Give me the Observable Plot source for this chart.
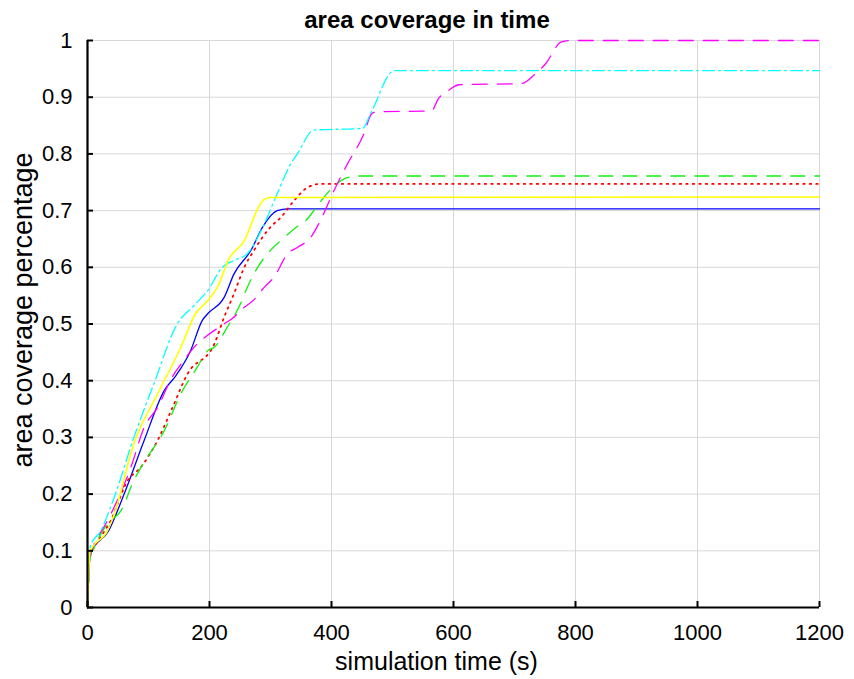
<!DOCTYPE html>
<html>
<head>
<meta charset="utf-8">
<script src="https://cdn.jsdelivr.net/npm/d3@7"></script>
<script src="https://cdn.jsdelivr.net/npm/@observablehq/plot@0.6"></script>
<style>
  body { margin: 0; background: #fff; }
  #title { width: 854px; height: 34px; font: bold 24px "Liberation Sans", Arial, sans-serif; line-height: 40px; text-align: center; color: #000; overflow: visible; }
</style>
</head>
<body>
<div id="title">area coverage in time</div>
<div id="chart"></div>
<script>
const titleText = "area coverage in time";
const xLabel = "simulation time (s)";
const yLabel = "area coverage percentage";
const xTicks = [0, 200, 400, 600, 800, 1000, 1200];
const xTickLabels = ["0", "200", "400", "600", "800", "1000", "1200"];
const yTicks = [0, 0.1, 0.2, 0.3, 0.4, 0.5, 0.6, 0.7, 0.8, 0.9, 1];
const yTickLabels = ["0", "0.1", "0.2", "0.3", "0.4", "0.5", "0.6", "0.7", "0.8", "0.9", "1"];

// series (time s, coverage)
const blueT = [0, 4, 35, 60, 93, 126, 145, 169, 188, 197, 224, 240, 268, 287, 311, 328, 1200];
const blueV = [0, 0.095, 0.136, 0.2, 0.295, 0.383, 0.409, 0.453, 0.506, 0.518, 0.547, 0.588, 0.63, 0.671, 0.7, 0.703, 0.703];

const yellowT = [0, 4, 33, 44, 76, 115, 153, 177, 197, 213, 232, 257, 279, 286, 300, 1200];
const yellowV = [0, 0.098, 0.136, 0.165, 0.289, 0.377, 0.459, 0.518, 0.541, 0.565, 0.615, 0.647, 0.703, 0.716, 0.723, 0.724];

const cyanT = [0, 4, 22, 44, 76, 109, 147, 175, 197, 221, 240, 262, 290, 311, 333, 344, 371, 451, 464, 503, 1200];
const cyanV = [0, 0.106, 0.136, 0.195, 0.3, 0.395, 0.5, 0.533, 0.559, 0.6, 0.612, 0.624, 0.677, 0.73, 0.782, 0.8, 0.842, 0.845, 0.871, 0.947, 0.947];

const redT = [0, 4, 11, 38, 66, 87, 115, 137, 164, 208, 224, 240, 257, 273, 300, 317, 339, 361, 382, 1200];
const redV = [0, 0.09, 0.106, 0.153, 0.224, 0.247, 0.295, 0.347, 0.412, 0.465, 0.512, 0.553, 0.6, 0.63, 0.671, 0.688, 0.718, 0.741, 0.747, 0.747];

const greenT = [0, 5, 11, 33, 55, 76, 98, 126, 153, 180, 197, 208, 229, 251, 262, 279, 295, 317, 339, 361, 371, 388, 421, 443, 1200];
const greenV = [0, 0.09, 0.106, 0.148, 0.171, 0.224, 0.265, 0.312, 0.377, 0.424, 0.453, 0.459, 0.494, 0.536, 0.565, 0.6, 0.624, 0.647, 0.668, 0.686, 0.7, 0.724, 0.756, 0.761, 0.761];

const magentaT = [0, 4, 11, 27, 49, 71, 93, 115, 137, 158, 180, 197, 219, 240, 251, 273, 290, 306, 328, 344, 366, 382, 404, 426, 453, 466, 474, 564, 575, 592, 609, 711, 734, 751, 776, 790, 1200];
const magentaV = [0, 0.09, 0.112, 0.142, 0.189, 0.247, 0.318, 0.353, 0.403, 0.436, 0.465, 0.48, 0.497, 0.512, 0.524, 0.543, 0.565, 0.583, 0.624, 0.635, 0.653, 0.683, 0.735, 0.782, 0.835, 0.871, 0.874, 0.876, 0.897, 0.912, 0.922, 0.924, 0.941, 0.959, 0.997, 1.0, 1.0];

const seriesNames = ["blue", "red", "green", "magenta", "cyan", "yellow"];
const seriesColors = {blue: "#0000ff", red: "#ff0000", green: "#11f011", magenta: "#ff00ff", cyan: "#00ffff", yellow: "#ffff00"};
const seriesDash = {blue: null, red: "1.5,5", green: "14,10", magenta: "15,10", cyan: "12,4,2,4", yellow: null};
const seriesWidth = {blue: 1.3, red: 1.8, green: 1.3, magenta: 1.3, cyan: 1.3, yellow: 1.6};
const seriesData = {
  blue: [blueT, blueV], red: [redT, redV], green: [greenT, greenV],
  magenta: [magentaT, magentaV], cyan: [cyanT, cyanV], yellow: [yellowT, yellowV]
};

const W = 854, H = 645, mL = 87, mR = 35, mT = 6, mB = 72;
const innerW = W - mL - mR, innerH = H - mT - mB;
const font = '"Liberation Sans", Arial, sans-serif';

const lineMarks = seriesNames.map(name => {
  const [t, v] = seriesData[name];
  const rows = t.map((x, i) => ({t: x, v: v[i]}));
  return Plot.line(rows, {
    x: "t", y: "v", curve: "monotone-x",
    stroke: seriesColors[name], strokeWidth: seriesWidth[name],
    strokeDasharray: seriesDash[name] || undefined
  });
});

const chart = Plot.plot({
  width: W, height: H,
  marginLeft: mL, marginRight: mR, marginTop: mT, marginBottom: mB,
  style: {fontFamily: font, background: "#fff", overflow: "visible"},
  x: {domain: [0, 1200]},
  y: {domain: [0, 1]},
  marks: [
    Plot.gridX(xTicks, {stroke: "#d8d8d8", strokeOpacity: 1, strokeWidth: 1}),
    Plot.gridY(yTicks, {stroke: "#d8d8d8", strokeOpacity: 1, strokeWidth: 1}),
    ...lineMarks,
    Plot.ruleX([0], {stroke: "#000", strokeWidth: 2.2}),
    Plot.ruleY([0], {stroke: "#000", strokeWidth: 2.2}),
    Plot.ruleX(xTicks, {stroke: "#000", strokeWidth: 2, insetTop: innerH - 6}),
    Plot.ruleY(yTicks, {stroke: "#000", strokeWidth: 2, insetRight: innerW - 6}),
    Plot.axisX(xTicks, {tickSize: 0, tickPadding: 17, fontSize: 22, label: null,
      tickFormat: d => xTickLabels[xTicks.indexOf(d)], fill: "#000"}),
    Plot.axisY(yTicks, {tickSize: 0, tickPadding: 15, fontSize: 22, label: null,
      tickFormat: d => yTickLabels[yTicks.indexOf(d)], fill: "#000"}),
    Plot.text([xLabel], {frameAnchor: "bottom", text: d => d, dy: 54, dx: -17, fontSize: 25, lineAnchor: "middle", textAnchor: "middle", fill: "#000"}),
    Plot.text([yLabel], {frameAnchor: "left", text: d => d, dx: -64, dy: -14, rotate: -90, fontSize: 27, lineAnchor: "middle", textAnchor: "middle", fill: "#000"})
  ]
});
document.getElementById("chart").appendChild(chart);
</script>
</body>
</html>
